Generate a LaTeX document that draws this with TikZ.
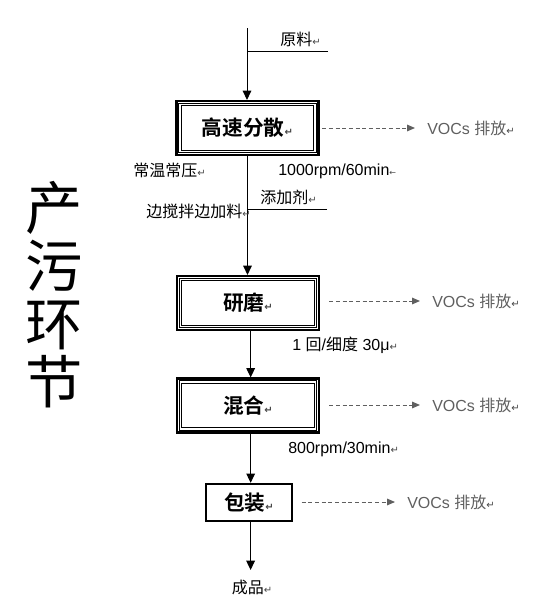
\documentclass[tikz,border=0pt]{standalone}
\usepackage{fontspec}
\setmainfont{Liberation Sans}
\newfontfamily\cjk{Noto Sans CJK SC}[BoldFont={Noto Sans CJK SC Bold}]
\newfontfamily\symfont{DejaVu Sans}
\usetikzlibrary{arrows.meta}
\definecolor{FlowInk}{RGB}{0,0,0}
\definecolor{FlowGray}{RGB}{95,95,95}
\definecolor{FlowMark}{RGB}{70,70,70}
\newcommand{\rmk}{{\symfont\fontsize{7.5}{7.5}\selectfont\textcolor{FlowMark}{↵}}}
\newcommand{\lmk}{{\symfont\fontsize{6}{6}\selectfont\textcolor{FlowMark}{←}}}
\newcommand{\stageframe}[1]{%
  \draw[flow/frame] ([shift={(2.5pt,2.5pt)}]#1.south west) rectangle ([shift={(-2.5pt,-2.5pt)}]#1.north east);
  \draw[flow/frame, line width=0.9pt] ([shift={(4.3pt,4.3pt)}]#1.south west) rectangle ([shift={(-4.3pt,-4.3pt)}]#1.north east);}
\tikzset{
  flow/stage/.style={
    draw=FlowInk,
    line width=1.6pt,
    fill=white,
    minimum width=106.5pt,
    minimum height=40.5pt,
    inner sep=0pt,
    font=\cjk\bfseries\fontsize{15.5}{18}\selectfont
  },
  flow/pack/.style={
    draw=FlowInk,
    line width=1.5pt,
    fill=white,
    minimum width=64.5pt,
    minimum height=28pt,
    inner sep=0pt,
    font=\cjk\bfseries\fontsize{15.5}{18}\selectfont
  },
  flow/frame/.style={draw=FlowInk, line width=0.6pt},
  flow/arrow/.style={-{Triangle[length=7pt,width=6.5pt]}, line width=0.75pt, draw=FlowInk},
  flow/feed/.style={line width=0.75pt, draw=FlowInk},
  flow/voc/.style={-{Triangle[length=6pt,width=5pt]}, line width=0.75pt, draw=FlowGray, dash pattern=on 3pt off 2pt, shorten >=9pt},
  flow/label/.style={inner sep=0pt, font=\fontsize{12}{14}\selectfont, text=FlowInk},
  flow/voclabel/.style={flow/label, text=FlowGray, anchor=west},
  flow/side/.style={font=\cjk\fontsize{43}{43.5}\selectfont, align=center, inner sep=0pt}
}

\begin{document}
\begin{tikzpicture}[x=0.75pt,y=-0.75pt]
  \useasboundingbox (0,0) rectangle (548,600);
  % side title
  \node[flow/side] (side) at (54,295) {产\\污\\环\\节};
  % stages
  \coordinate (src) at (247,28);
  \node[flow/stage] (fenshan) at (247.5,128) {高速分散\rmk};
  \node[flow/stage] (yanmo) at (248,303) {研磨\rmk};
  \node[flow/stage] (hunhe) at (248,405.5) {混合\rmk};
  \node[flow/pack] (baozhuang) at (249,502.5) {包装\rmk};
  \foreach \s in {fenshan,yanmo,hunhe}{\stageframe{\s}}
  \node[flow/label] (chengpin) at (252,587) {{\cjk 成品}\rmk};
  % main flow
  \draw[flow/arrow] (src) -- (src |- fenshan.north);
  \draw[flow/arrow] (fenshan.south) -- (fenshan.south |- yanmo.north);
  \draw[flow/arrow] ([xshift=2pt]yanmo.south) -- ([xshift=2pt]yanmo.south |- hunhe.north);
  \draw[flow/arrow] ([xshift=2pt]hunhe.south) -- ([xshift=2pt]hunhe.south |- baozhuang.north);
  \draw[flow/arrow] ([xshift=1.2pt]baozhuang.south) -- ([xshift=1.2pt,yshift=7pt]baozhuang.south |- chengpin.north);
  % feeds
  \coordinate (feedA) at (328,51);
  \coordinate (feedB) at (327,209);
  \draw[flow/feed] (feedA) -- (feedA -| src);
  \draw[flow/feed] (feedB) -- (feedB -| fenshan.south);
  \node[flow/label, anchor=west] (yuanliao) at (280,39) {{\cjk 原料}\rmk};
  \node[flow/label, anchor=west] (changwen) at (133,170) {{\cjk 常温常压}\rmk};
  \node[flow/label, anchor=west] (speedA) at (278,171) {1000rpm/60min\lmk};
  \node[flow/label, anchor=west] (tianjia) at (260,197) {{\cjk 添加剂}\rmk};
  \node[flow/label, anchor=east] (bianjiao) at (251,211) {{\cjk 边搅拌边加料}\rmk};
  \node[flow/label, anchor=west] (xidu) at (292,345) {1 {\cjk 回}/{\cjk 细度} 30μ\rmk};
  \node[flow/label, anchor=west] (speedB) at (288,449) {800rpm/30min\rmk};
  % emissions
  \node[flow/voclabel] (vocA) at (427,128) {VOCs {\cjk 排放}\rmk};
  \node[flow/voclabel] (vocB) at (432,301) {VOCs {\cjk 排放}\rmk};
  \node[flow/voclabel] (vocC) at (432,405) {VOCs {\cjk 排放}\rmk};
  \node[flow/voclabel] (vocD) at (407,502) {VOCs {\cjk 排放}\rmk};
  \draw[flow/voc, shorten <=2pt] (vocA.west -| fenshan.east) -- (vocA.west);
  \draw[flow/voc, shorten <=7pt] (vocB.west -| yanmo.east) -- (vocB.west);
  \draw[flow/voc, shorten <=7pt] (vocC.west -| hunhe.east) -- (vocC.west);
  \draw[flow/voc, shorten <=6.5pt] (vocD.west -| baozhuang.east) -- (vocD.west);
\end{tikzpicture}
\end{document}
